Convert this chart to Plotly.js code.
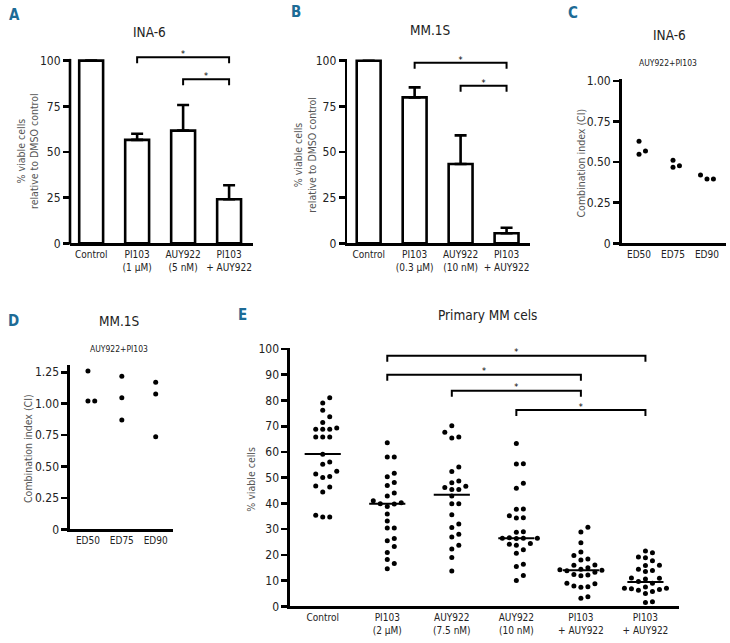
<!DOCTYPE html>
<html><head><meta charset="utf-8">
<script src="https://cdn.plot.ly/plotly-3.0.1.min.js"></script>
<style>html,body{margin:0;padding:0;background:#fff}#chart{width:730px;height:643px}</style>
</head><body><div id="chart"></div>
<script>
// ---------- DATA ----------
// Panel A: INA-6
const catsA = ['Control', 'PI103<br>(1 μM)', 'AUY922<br>(5 nM)', 'PI103<br>+ AUY922'];
const valsA = [100, 56.6, 61.7, 24.1];
const errA  = [0, 3.4, 14.0, 7.7];
const sigA  = [[1, 3, 101.9], [2, 3, 89.8]];
// Panel B: MM.1S
const catsB = ['Control', 'PI103<br>(0.3 μM)', 'AUY922<br>(10 nM)', 'PI103<br>+ AUY922'];
const valsB = [100, 79.9, 43.4, 5.5];
const errB  = [0, 5.5, 15.7, 3.0];
const sigB  = [[1, 3, 98.9], [2, 3, 86.3]];
// Panels C / D: combination index
const edCats = ['ED50', 'ED75', 'ED90'];
const ciINA6 = [[0.628, 0.548, 0.569], [0.511, 0.468, 0.478], [0.421, 0.396, 0.396]];
const ciMM1S = [[1.260, 1.021, 1.021], [1.218, 1.048, 0.870], [1.170, 1.077, 0.737]];
// Panel E: primary MM cells
const catsE = ['Control', 'PI103<br>(2 μM)', 'AUY922<br>(7.5 nM)', 'AUY922<br>(10 nM)', 'PI103<br>+ AUY922', 'PI103<br>+ AUY922'];
const eControl = [81.1, 79.0, 76.2, 73.7, 71.4, 69.3, 68.8, 68.8, 68.8, 65.8, 65.8, 65.8, 59.1, 56.1, 55.2, 52.5, 51.4, 50.5, 50.1, 46.8, 46.4, 44.4, 35.4, 34.7, 34.7];
const ePI103 = [63.6, 58.0, 58.0, 51.7, 50.4, 48.1, 47.0, 44.0, 42.9, 41.0, 40.3, 39.9, 39.8, 38.8, 35.9, 33.2, 30.4, 30.4, 26.4, 25.5, 23.2, 20.9, 18.2, 16.6, 14.6];
const eAUY75 = [70.2, 67.7, 65.8, 65.4, 54.1, 52.4, 48.7, 48.0, 46.7, 46.2, 45.4, 45.4, 42.9, 39.9, 39.9, 35.6, 32.0, 30.6, 28.0, 26.9, 23.7, 22.3, 19.0, 13.7];
const eAUY10 = [63.3, 55.4, 55.3, 47.8, 45.9, 37.8, 37.7, 35.2, 34.4, 34.3, 29.0, 28.8, 26.6, 26.5, 26.5, 26.4, 26.5, 24.4, 24.1, 23.7, 22.0, 20.6, 16.3, 15.5, 12.0, 10.0];
const eCombo1 = [30.7, 28.9, 24.7, 21.1, 19.7, 18.4, 18.0, 16.1, 16.0, 15.0, 14.4, 14.2, 14.0, 13.8, 13.2, 12.4, 12.2, 11.9, 9.0, 8.8, 7.6, 7.4, 7.9, 3.7, 3.1];
const eCombo2 = [21.5, 20.8, 19.2, 18.9, 17.7, 16.0, 15.9, 14.4, 13.9, 13.5, 11.0, 10.9, 10.6, 9.6, 7.0, 6.8, 7.5, 6.5, 7.0, 5.8, 5.0, 6.2, 1.5, 1.8, 9.0];
const mediansE = [59.2, 39.9, 43.4, 26.5, 14.0, 9.4];
const sigE = [[1, 5, 97.4], [1, 4, 90.0], [2, 4, 83.8], [3, 5, 76.3]];

// ---------- HELPERS ----------
const FONT = '"DejaVu Sans Condensed", "Liberation Sans Narrow", "Liberation Sans", Arial, sans-serif';
const W = 730, H = 643;
const px = x => x / W;
const py = y => 1 - y / H;

// deterministic beeswarm: offset index per point (0, +1, -1, +2, -2 ...)
function swarm(vals, thr) {
  const order = vals.map((v, i) => i).sort((a, b) => vals[a] - vals[b]);
  const placed = [], off = new Array(vals.length);
  order.forEach(i => {
    for (let k = 0; ; k++) {
      const o = k === 0 ? 0 : (k % 2 ? (k + 1) / 2 : -k / 2);
      if (!placed.some(p => p.o === o && Math.abs(p.v - vals[i]) < thr)) {
        off[i] = o; placed.push({o: o, v: vals[i]}); break;
      }
    }
  });
  return off;
}

const traces = [];
function dots(groups, step, thr, xa, ya) {
  const xs = [], ys = [];
  groups.forEach((g, ci) => {
    const o = swarm(g, thr);
    g.forEach((v, i) => { xs.push(ci + o[i] * step); ys.push(v); });
  });
  traces.push({type: 'scatter', mode: 'markers', x: xs, y: ys, xaxis: xa, yaxis: ya,
    marker: {color: '#000', size: 5}, hoverinfo: 'skip', cliponaxis: false});
}
function brackets(sig, drop, starDy, xa, ya, lw) {
  const bx = [], by = [], sx = [], sy = [];
  sig.forEach(s => {
    bx.push(s[0], s[0], s[1], s[1], null);
    by.push(s[2] - drop, s[2], s[2], s[2] - drop, null);
    sx.push((s[0] + s[1]) / 2); sy.push(s[2] + starDy);
  });
  traces.push({type: 'scatter', mode: 'lines', x: bx, y: by, xaxis: xa, yaxis: ya,
    line: {color: '#000', width: lw}, hoverinfo: 'skip', cliponaxis: false});
  traces.push({type: 'scatter', mode: 'text', x: sx, y: sy, xaxis: xa, yaxis: ya,
    text: sx.map(() => '*'), textposition: 'middle center',
    textfont: {family: FONT, size: 9, color: '#000'}, hoverinfo: 'skip', cliponaxis: false});
}
function barPanel(vals, err, xa, ya) {
  traces.push({type: 'bar', x: vals.map((v, i) => i), y: vals, xaxis: xa, yaxis: ya, width: 0.52,
    marker: {color: '#fff', line: {color: '#000', width: 2.6}},
    error_y: {type: 'data', symmetric: false, array: err, arrayminus: err.map(() => 0),
      color: '#000', thickness: 2.6, width: 6},
    hoverinfo: 'skip', cliponaxis: false});
}

// ---------- TRACES ----------
barPanel(valsA, errA, 'x', 'y');
brackets(sigA, 3.3, 1.6, 'x', 'y', 2);
barPanel(valsB, errB, 'x2', 'y2');
brackets(sigB, 3.3, 0.9, 'x2', 'y2', 2);
dots(ciINA6, 0.19, 0.042, 'x3', 'y3');
dots(ciMM1S, 0.2, 0.054, 'x4', 'y4');
dots([eControl, ePI103, eAUY75, eAUY10, eCombo1, eCombo2], 0.1085, 2.4, 'x5', 'y5');
// median lines
(function () {
  const mx = [], my = [];
  mediansE.forEach((m, i) => { mx.push(i - 0.28, i + 0.28, null); my.push(m, m, null); });
  traces.push({type: 'scatter', mode: 'lines', x: mx, y: my, xaxis: 'x5', yaxis: 'y5',
    line: {color: '#000', width: 2}, hoverinfo: 'skip', cliponaxis: false});
})();
brackets(sigE, 2.3, 1.0, 'x5', 'y5', 2);

// ---------- LAYOUT ----------
function xax(d0, d1, r, vals, text, anchor) {
  return {domain: [px(d0), px(d1)], range: r, anchor: anchor, tickvals: vals, ticktext: text,
    showline: true, linewidth: 2.6, linecolor: '#000', ticks: '', showgrid: false, zeroline: false,
    tickangle: 0, tickfont: {family: FONT, size: 10, color: '#222'}, fixedrange: true};
}
function yax(top, bottom, r, tv, tt, anchor, line) {
  return {domain: [py(bottom), py(top)], range: r, anchor: anchor, tickvals: tv, ticktext: tt,
    showline: line !== false, linewidth: 2.6, linecolor: '#000', ticks: 'outside', ticklen: 6, tickwidth: 2.6,
    tickcolor: '#000', showgrid: false, zeroline: false,
    tickfont: {family: FONT, size: 12, color: '#222'}, fixedrange: true};
}
const pctT = [0, 25, 50, 75, 100];
const ciT = [0, 0.25, 0.5, 0.75, 1.0];
const ciT2 = [0, 0.25, 0.5, 0.75, 1.0, 1.25];
const eT = [0, 10, 20, 30, 40, 50, 60, 70, 80, 90, 100];

const ann = [];
function label(t, x, y, size, opts) {
  ann.push(Object.assign({text: t, x: px(x), y: py(y), xref: 'paper', yref: 'paper', showarrow: false,
    xanchor: 'center', yanchor: 'middle', font: {family: FONT, size: size, color: '#222'}}, opts || {}));
}
const panelFont = {family: FONT, size: 15, color: '#1d6b96'};
label('<b>A</b>', 14, 15, 15, {font: panelFont});
label('<b>B</b>', 296, 12, 15, {font: panelFont});
label('<b>C</b>', 573, 12.5, 15, {font: panelFont});
label('<b>D</b>', 13.5, 320.7, 15, {font: panelFont});
label('<b>E</b>', 242, 315, 15, {font: panelFont});
label('INA-6', 149, 32, 13.5);
label('MM.1S', 430, 30, 13.5);
label('INA-6', 669, 35, 13.5);
label('AUY922+PI103', 668, 62.7, 8.5);
label('MM.1S', 119, 320.7, 13.5);
label('AUY922+PI103', 119, 349, 8.5);
label('Primary MM cels', 487, 315, 13.5);
const gray = {family: FONT, size: 10.5, color: '#555'};
label('% viable cells', 20.7, 150.7, 10.5, {textangle: -90, font: gray});
label('relative to DMSO control', 33.3, 150.7, 10.5, {textangle: -90, font: gray});
label('% viable cells', 298.3, 155, 10.5, {textangle: -90, font: gray});
label('relative to DMSO control', 311.7, 155, 10.5, {textangle: -90, font: gray});
label('Combination index (CI)', 580.5, 163, 10.5, {textangle: -90, font: gray});
label('Combination index (CI)', 28, 449, 10.5, {textangle: -90, font: gray});
label('% viable cells', 250.7, 479, 10.5, {textangle: -90, font: gray});

// panel A: y range extends above 100 to hold the brackets; its axis line stops at 100
const shapes = [{type: 'line', xref: 'paper', yref: 'paper', x0: px(70), x1: px(70),
  y0: py(244.6), y1: py(58.9), line: {color: '#000', width: 2.6}}];

const layout = {
  width: W, height: H, margin: {l: 0, r: 0, t: 0, b: 0},
  paper_bgcolor: '#fff', plot_bgcolor: 'rgba(0,0,0,0)', showlegend: false,
  font: {family: FONT, color: '#222'},
  xaxis:  xax(70, 253, [-0.46, 3.52], [0, 1, 2, 3], catsA, 'y'),
  yaxis:  yax(49.7, 243.3, [0, 106], pctT, pctT.map(String), 'x', false),
  xaxis2: xax(347.3, 530, [-0.465, 3.51], [0, 1, 2, 3], catsB, 'y2'),
  yaxis2: yax(58.9, 243.3, [0, 101], pctT, pctT.map(String), 'x2'),
  xaxis3: xax(621.7, 726, [-0.51, 2.56], [0, 1, 2], edCats, 'y3'),
  yaxis3: yax(79, 243.3, [0, 1.012], ciT, ['0', '0.25', '0.50', '0.75', '1.00'], 'x3'),
  xaxis4: xax(70, 173.3, [-0.53, 2.52], [0, 1, 2], edCats, 'y4'),
  yaxis4: yax(365, 529.3, [0, 1.308], ciT2, ['0', '0.25', '0.50', '0.75', '1.00', '1.25'], 'x4'),
  xaxis5: xax(290, 679, [-0.507, 5.52], [0, 1, 2, 3, 4, 5], catsE, 'y5'),
  yaxis5: yax(347.5, 606.3, [0, 100.6], eT, eT.map(String), 'x5'),
  annotations: ann, shapes: shapes,
  bargap: 0
};
Plotly.newPlot('chart', traces, layout, {staticPlot: true, displayModeBar: false});
</script>
</body></html>
